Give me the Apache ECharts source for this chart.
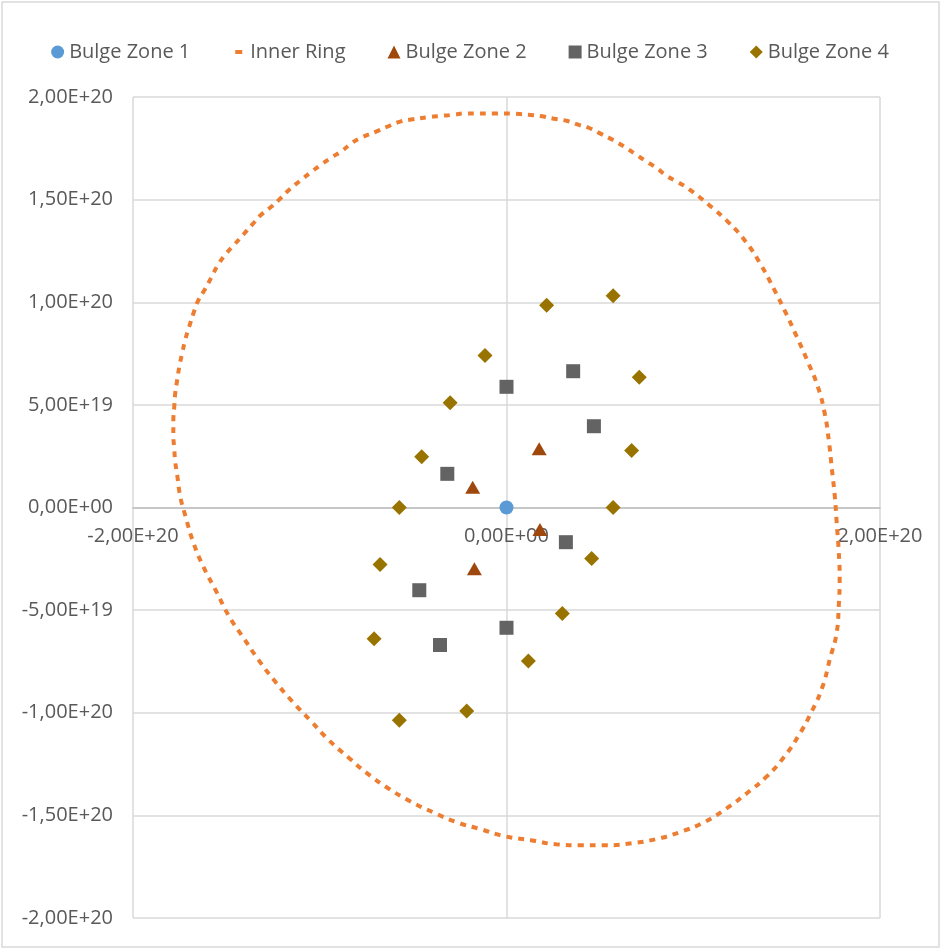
<!DOCTYPE html>
<html>
<head>
<meta charset="utf-8">
<script src="https://cdn.jsdelivr.net/npm/echarts@6/dist/echarts.min.js"></script>
<style>
  html, body { margin: 0; padding: 0; background: #fff; }
  #chart { width: 940px; height: 949px; }
</style>
</head>
<body>
<div id="chart"></div>
<script>
// all values below are in units of 1e19
const UNIT = 1e19;

const seriesNames = ['Bulge Zone 1', 'Inner Ring', 'Bulge Zone 2', 'Bulge Zone 3', 'Bulge Zone 4'];

const zone1X = [0];
const zone1Y = [0];

const zone2X = [-1.81, 1.75, 1.79, -1.72];
const zone2Y = [0.99, 2.86, -1.07, -2.98];

const zone3X = [0, 3.57, 4.68, 3.18, 0, -3.56, -4.67, -3.17];
const zone3Y = [5.88, 6.64, 3.96, -1.69, -5.86, -6.70, -4.03, 1.64];

const zone4X = [2.15, 5.71, 7.11, 6.70, 5.71, 4.56, 2.99, 1.17, -2.13, -5.74, -7.09, -6.77, -5.74, -4.54, -3.02, -1.15];
const zone4Y = [9.85, 10.32, 6.34, 2.78, 0, -2.48, -5.16, -7.48, -9.92, -10.37, -6.39, -2.78, 0, 2.47, 5.10, 7.40];

// inner ring, read clockwise starting at the top
const ringX = [
  -0.13, 0.51, 1.17, 1.83, 2.54, 3.22, 3.84, 4.43, 5.09, 5.71, 6.29, 6.88, 7.46, 8.04, 8.57, 9.16, 9.76,
  10.83, 11.90, 12.81, 13.62, 14.31, 14.95, 15.54, 16.13, 16.67, 17.04, 17.26, 17.42, 17.58,
  17.68, 17.79, 17.84, 17.79, 17.68, 17.31, 16.93, 16.35, 15.65, 14.85, 13.94, 12.87, 11.80, 10.57, 9.28, 8.00, 6.71, 5.32, 3.99, 2.65, 1.31, -0.08,
  -1.36, -2.65, -3.93, -5.16, -6.34, -7.46, -8.48, -9.55, -10.51, -11.48, -12.44, -13.30, -14.10, -14.85, -15.54, -16.24, -16.77, -17.20, -17.47,
  -17.63, -17.74, -17.79, -17.84, -17.84, -17.79, -17.74, -17.63, -17.52, -17.36, -17.20, -16.99, -16.77, -16.51, -16.13, -15.81, -15.44, -15.01,
  -14.58, -14.10, -13.62, -13.14, -12.60, -12.07, -11.58, -11.05, -10.51, -9.93, -9.39, -8.80, -8.27, -7.68, -6.98, -6.39,
  -5.74, -5.11, -4.18, -3.52, -2.88, -2.17, -1.51, -0.85, -0.13
];
const ringY = [
  19.20, 19.18, 19.13, 19.07, 18.94, 18.84, 18.65, 18.49, 18.19, 17.90, 17.59, 17.23, 16.88, 16.54, 16.16, 15.86, 15.52,
  14.75, 13.88, 12.95, 11.83, 10.66, 9.49, 8.33, 7.11, 5.89, 4.58, 3.26, 1.90, 0.54,
  -0.73, -2.14, -3.41, -4.82, -6.09, -7.40, -8.71, -9.93, -11.10, -12.17, -13.10, -13.92, -14.65, -15.34, -15.82, -16.16, -16.36, -16.46, -16.46, -16.41, -16.21, -16.02,
  -15.68, -15.34, -14.85, -14.31, -13.68, -12.95, -12.17, -11.30, -10.37, -9.44, -8.42, -7.40, -6.33, -5.31, -4.09, -2.87, -1.70, -0.39, 0.54,
  1.56, 2.24, 2.87, 3.55, 4.19, 4.92, 5.55, 6.23, 6.86, 7.55, 8.18, 8.81, 9.44, 10.08, 10.66, 11.20,
  11.83, 12.37, 12.80, 13.29, 13.78, 14.26, 14.65, 15.09, 15.53, 15.92, 16.31, 16.70, 17.04, 17.38, 17.77, 18.06, 18.31, 18.55,
  18.79, 18.90, 19.02, 19.08, 19.13, 19.20, 19.20, 19.20, 19.20
];

function pairs(xs, ys) {
  return xs.map((x, i) => [x * UNIT, ys[i] * UNIT]);
}

// Excel-like "0,00E+00"
function sci(v) {
  let s = Number(v).toExponential(2);
  let parts = s.split('e');
  let sign = parts[1][0];
  let exp = parts[1].slice(1).padStart(2, '0');
  return parts[0].replace('.', ',') + 'E' + sign + exp;
}

const textColor = '#595959';
const gridColor = '#D9D9D9';
const font = 'Open Sans';

const gridTop = 97;
const gridBottom = 31;
const plotHeight = 949 - gridTop - gridBottom;

const chart = echarts.init(document.getElementById('chart'), null, { renderer: 'canvas' });

const option = {
  backgroundColor: '#fff',
  animation: false,
  graphic: [{
    type: 'rect',
    shape: { x: 2, y: 2, width: 937, height: 945 },
    style: { fill: 'none', stroke: gridColor, lineWidth: 1.5 },
    silent: true
  }],
  legend: {
    top: 37,
    left: 'center',
    itemWidth: 13,
    itemHeight: 13,
    itemGap: 42,
    textStyle: { color: textColor, fontSize: 20, fontFamily: font },
    data: [
      { name: seriesNames[0], icon: 'circle' },
      { name: seriesNames[1], icon: 'path://M0,0M13,13M3,4.5h7v4h-7z' },
      { name: seriesNames[2], icon: 'triangle' },
      { name: seriesNames[3], icon: 'rect' },
      { name: seriesNames[4], icon: 'diamond' }
    ]
  },
  grid: {
    left: 133,
    right: 60,
    top: gridTop,
    bottom: gridBottom,
    containLabel: false,
    outerBoundsMode: 'none'
  },
  xAxis: {
    type: 'value',
    position: 'bottom',
    // put the horizontal axis (and its labels) on y = 0, like the Excel original
    offset: -plotHeight / 2,
    min: -2e20,
    max: 2e20,
    interval: 2e20,
    axisLine: { show: true, onZero: false, lineStyle: { color: '#BFBFBF', width: 1.5 } },
    axisTick: { show: false },
    axisLabel: {
      color: textColor,
      fontSize: 20,
      fontFamily: font,
      margin: 19,
      formatter: sci,
      showMinLabel: true,
      showMaxLabel: true
    },
    splitLine: { show: true, lineStyle: { color: gridColor, width: 1.5 } }
  },
  yAxis: {
    type: 'value',
    min: -2e20,
    max: 2e20,
    interval: 5e19,
    axisLine: { show: false, onZero: false },
    axisTick: { show: false },
    axisLabel: {
      color: textColor,
      fontSize: 20,
      fontFamily: font,
      margin: 20,
      formatter: sci
    },
    splitLine: { show: true, lineStyle: { color: gridColor, width: 1.5 } }
  },
  series: [
    {
      name: seriesNames[0],
      type: 'scatter',
      symbol: 'circle',
      symbolSize: 14,
      itemStyle: { color: '#5B9BD5', opacity: 1 },
      data: pairs(zone1X, zone1Y),
      z: 5
    },
    {
      name: seriesNames[1],
      type: 'line',
      showSymbol: false,
      symbol: 'none',
      smooth: 0.5,
      itemStyle: { color: '#ED7D31' },
      lineStyle: { color: '#ED7D31', width: 4, type: [6, 6], cap: 'butt' },
      data: pairs(ringX, ringY),
      z: 3
    },
    {
      name: seriesNames[2],
      type: 'scatter',
      symbol: 'triangle',
      symbolSize: [15, 13],
      itemStyle: { color: '#9E480E', opacity: 1 },
      data: pairs(zone2X, zone2Y),
      z: 4
    },
    {
      name: seriesNames[3],
      type: 'scatter',
      symbol: 'rect',
      symbolSize: 14,
      itemStyle: { color: '#636363', opacity: 1 },
      data: pairs(zone3X, zone3Y),
      z: 4
    },
    {
      name: seriesNames[4],
      type: 'scatter',
      symbol: 'diamond',
      symbolSize: 15,
      itemStyle: { color: '#997300', opacity: 1 },
      data: pairs(zone4X, zone4Y),
      z: 4
    }
  ]
};

chart.setOption(option);
</script>
</body>
</html>
